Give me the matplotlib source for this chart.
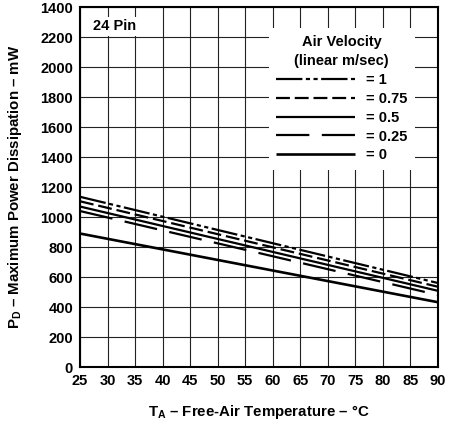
import matplotlib
matplotlib.use('Agg')
import matplotlib.pyplot as plt

plt.rcParams['font.family'] = ['Liberation Sans', 'DejaVu Sans']
plt.rcParams['font.weight'] = 'bold'
plt.rcParams['mathtext.fontset'] = 'custom'
plt.rcParams['mathtext.rm'] = 'Liberation Sans:bold'
plt.rcParams['mathtext.default'] = 'rm'
plt.rcParams['lines.scale_dashes'] = False

# data (straight derating lines, end points)
temps = [25, 90]
pd_v1 = [1135, 560]
pd_v075 = [1105, 535]
pd_v05 = [1070, 508]
pd_v025 = [1040, 480]
pd_v0 = [890, 432]

labels = ['= 1', '= 0.75', '= 0.5', '= 0.25', '= 0']
xticks = list(range(25, 91, 5))
yticks = list(range(0, 2401, 200))
ytick_labels = [str(v) for v in yticks[:-1]] + ['1400']

fig = plt.figure(figsize=(4.56, 4.22), dpi=100)
ax = fig.add_axes([0.1754, 0.1303, 0.785, 0.853])

series = [pd_v1, pd_v075, pd_v05, pd_v025, pd_v0]
styles = [(0, (19, 2.5, 3, 2.5, 3, 2.5)), (0, (10, 3.5)), '-', (0, (24, 9)), '-']
widths = [1.6, 1.6, 1.6, 1.6, 1.9]
for s, ls, lw, lab in zip(series, styles, widths, labels):
    ax.plot(temps, s, color='black', linestyle=ls, linewidth=lw, label=lab,
            solid_capstyle='butt', dash_capstyle='butt')

ax.set_xlim(25, 90)
ax.set_ylim(0, 2400)
ax.set_xticks(xticks)
ax.set_yticks(yticks)
ax.set_yticklabels(ytick_labels)
ax.tick_params(length=0, labelsize=10.5, pad=5)
ax.grid(True, color='#222222', linewidth=0.8)
for sp in ax.spines.values():
    sp.set_linewidth(1.5)

ax.set_xlabel(r'T$_{A}$ – Free-Air Temperature – °C', fontsize=10.8, fontweight='bold', labelpad=11)
ax.set_ylabel(r'P$_{D}$ – Maximum Power Dissipation – mW', fontsize=10.8, fontweight='bold')
ax.yaxis.set_label_coords(-0.155, 0.5)

ax.text(0.037, 0.946, '24 Pin', transform=ax.transAxes, fontsize=10.5, fontweight='bold',
        va='center', ha='left', bbox=dict(facecolor='white', edgecolor='none', pad=1.5))

leg = ax.legend(loc='upper right', bbox_to_anchor=(0.955, 0.962), title='Air Velocity\n(linear m/sec)',
                frameon=True, fancybox=False, handlelength=5.4, handletextpad=0.75,
                labelspacing=0.33, borderpad=0.5, prop={'weight': 'bold', 'size': 10.5},
                title_fontproperties={'weight': 'bold', 'size': 10.5})
leg.get_frame().set_facecolor('white')
leg.get_frame().set_edgecolor('none')
leg.get_frame().set_alpha(1)
leg.get_title().set_multialignment('center')
leg.get_title().set_linespacing(1.45)

fig.savefig('out.png', dpi=100)
